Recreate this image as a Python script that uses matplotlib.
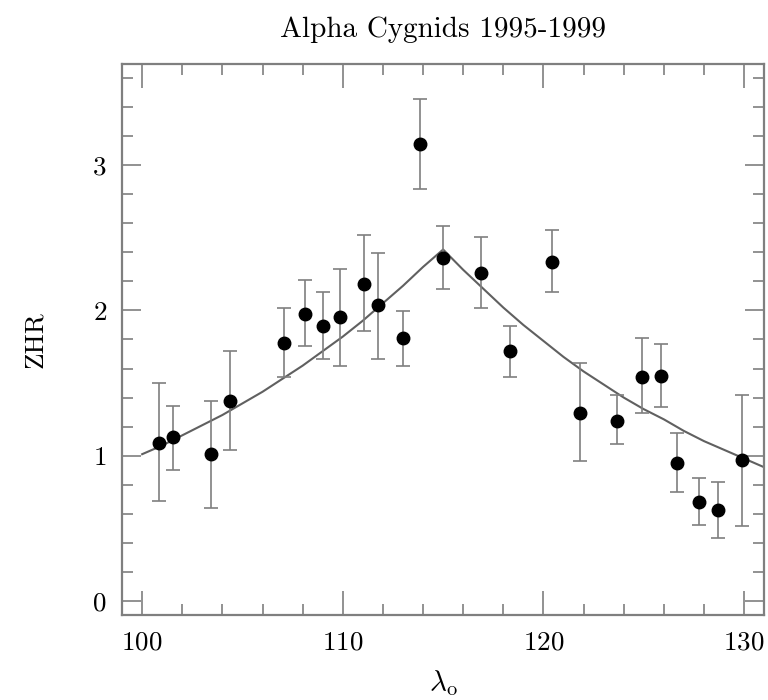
import matplotlib
matplotlib.use("Agg")
import matplotlib.pyplot as plt
from matplotlib.ticker import MultipleLocator

plt.rcParams["font.family"] = ["cmr10", "DejaVu Serif"]
plt.rcParams["mathtext.fontset"] = "cm"
plt.rcParams["axes.formatter.use_mathtext"] = True

lam = [100.83, 101.56, 103.45, 104.39, 107.08, 108.11, 109.03, 109.87, 111.07,
       111.77, 113.00, 113.83, 114.98, 116.88, 118.35, 120.41, 121.84, 123.66,
       124.91, 125.85, 126.67, 127.75, 128.69, 129.92]
zhr = [1.09, 1.125, 1.01, 1.374, 1.776, 1.979, 1.893, 1.954, 2.182,
       2.037, 1.808, 3.144, 2.364, 2.260, 1.720, 2.334, 1.294, 1.241,
       1.540, 1.547, 0.952, 0.680, 0.625, 0.971]
err_hi = [1.499, 1.345, 1.379, 1.718, 2.014, 2.210, 2.125, 2.284, 2.521,
          2.394, 1.997, 3.455, 2.579, 2.505, 1.893, 2.551, 1.640, 1.419,
          1.808, 1.769, 1.156, 0.848, 0.821, 1.421]
err_lo = [0.687, 0.904, 0.641, 1.038, 1.541, 1.753, 1.668, 1.615, 1.859,
          1.668, 1.615, 2.837, 2.147, 2.014, 1.540, 2.125, 0.964, 1.080,
          1.291, 1.333, 0.749, 0.521, 0.433, 0.514]

# fitted activity profile
fit_lam = [100, 101, 102, 103, 104, 105, 106, 107, 108, 109, 110, 111, 112, 113, 114, 115,
           116, 117, 118, 119, 120, 121, 122, 123, 124, 125, 126, 127, 128, 129, 130, 131]
fit_zhr = [1.01, 1.07, 1.14, 1.21, 1.28, 1.36, 1.44, 1.53, 1.62, 1.72, 1.82, 1.93, 2.05,
           2.17, 2.30, 2.42,
           2.28, 2.15, 2.02, 1.90, 1.79, 1.68, 1.58, 1.49, 1.40, 1.32, 1.25, 1.17,
           1.10, 1.04, 0.98, 0.92]

gray = "#7f7f7f"

fig = plt.figure(figsize=(7.68, 7.0), dpi=100)
ax = fig.add_axes([0.159, 0.121, 0.836, 0.788])

yerr = [[z - lo for z, lo in zip(zhr, err_lo)], [hi - z for z, hi in zip(zhr, err_hi)]]
ax.errorbar(lam, zhr, yerr=yerr, fmt="o", color="black", markersize=9,
            ecolor=gray, elinewidth=1.2, capsize=4.8, capthick=1.2, zorder=3)
ax.plot(fit_lam, fit_zhr, color="#606060", linewidth=1.5, zorder=2)

ax.set_xlim(99, 131)
ax.set_ylim(-0.1, 3.7)
ax.xaxis.set_major_locator(MultipleLocator(10))
ax.xaxis.set_minor_locator(MultipleLocator(2))
ax.yaxis.set_major_locator(MultipleLocator(1))
ax.yaxis.set_minor_locator(MultipleLocator(0.2))

for s in ax.spines.values():
    s.set_color(gray)
    s.set_linewidth(1.6)
ax.tick_params(which="both", direction="in", top=True, right=True, color=gray,
               width=1.2, labelsize=19.5, pad=11)
ax.tick_params(axis="x", which="major", length=17)
ax.tick_params(axis="x", which="minor", length=8)
ax.tick_params(axis="y", which="major", length=14)
ax.tick_params(axis="y", which="minor", length=8)

ax.set_xlabel(r"$\lambda_{\rm o}$", fontsize=21, labelpad=10)
ax.set_ylabel("ZHR", fontsize=19.5, labelpad=33)
ax.set_title("Alpha Cygnids 1995-1999", fontsize=21, pad=19)

plt.savefig("out.png", dpi=100)
